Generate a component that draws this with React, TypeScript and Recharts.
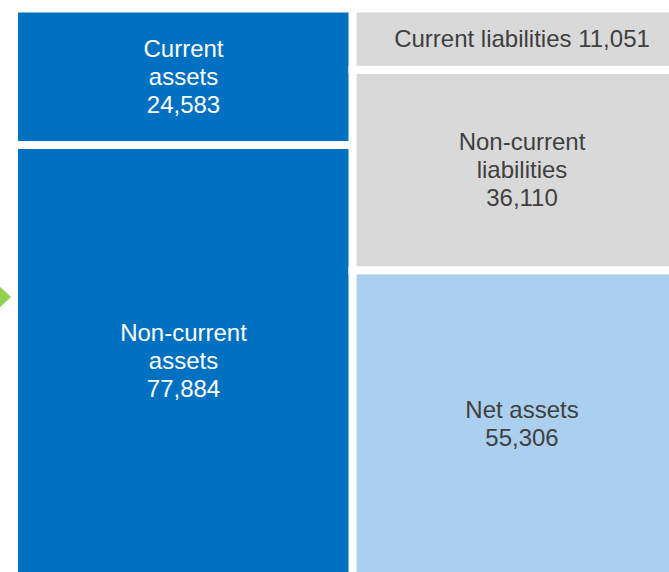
import React from "react";
import { BarChart, Bar, XAxis, YAxis, Cell, LabelList } from "recharts";

// balance sheet: left column = assets, right column = funding
const categories = ["Assets", "Liabilities and equity"];
const bottomValues = [77884, 55306]; // non-current assets / net assets
const middleValues = [24583, 36110]; // current assets / non-current liabilities
const topValues = [0, 11051]; // (none) / current liabilities

// "{v}" is replaced by the formatted value
const bottomLabels = [["Non-current", "assets", "{v}"], ["Net assets", "{v}"]];
const middleLabels = [["Current", "assets", "{v}"], ["Non-current", "liabilities", "{v}"]];
const topLabels = [[], ["Current liabilities {v}"]];

const BLUE = "#0070C0";
const LIGHT_BLUE = "#ABCFEE";
const GREY = "#D9D9D9";
const DARK_TEXT = "#404040";

const bottomFills = [BLUE, LIGHT_BLUE];
const middleFills = [BLUE, GREY];
const topFills = [BLUE, GREY];

const data = categories.map((name, i) => ({
  name,
  bottom: bottomValues[i],
  middle: middleValues[i],
  top: topValues[i],
}));

const fmt = (v: number) => v.toLocaleString("en-US");

// find the segment by its value, so skipped zero-height rects don't shift the index
const makeLabel = (values: number[], labels: string[][], fills: string[]) => (props: any) => {
  const { value } = props;
  const idx = values.indexOf(Number(value));
  if (idx < 0 || !value) return null;
  const lines = labels[idx] || [];
  if (!lines.length) return null;
  const vb = props.viewBox || props;
  const cx = vb.x + vb.width / 2;
  const cy = vb.y + vb.height / 2;
  const color = fills[idx] === BLUE ? "#ffffff" : DARK_TEXT;
  const lh = 28;
  return (
    <g>
      {lines.map((l, i) => (
        <text
          key={i}
          x={cx}
          y={cy + (i - (lines.length - 1) / 2) * lh + 8}
          textAnchor="middle"
          fill={color}
          style={{ fontFamily: "'Liberation Sans', Arial, sans-serif", fontSize: 24 }}
        >
          {l.replace("{v}", fmt(value))}
        </text>
      ))}
    </g>
  );
};

export default function App() {
  return (
    <div style={{ position: "fixed", left: 0, top: 0, width: 669, height: 572, overflow: "hidden", background: "#fff" }}>
      <BarChart
        width={700}
        height={580}
        data={data}
        margin={{ top: 8.5, right: 9, left: 14, bottom: 3 }}
        barCategoryGap={0}
        barGap={0}
      >
        <XAxis dataKey="name" hide />
        <YAxis hide domain={[0, "dataMax"]} />
        <Bar dataKey="bottom" stackId="a" stroke="#fff" strokeWidth={8} isAnimationActive={false}>
          {data.map((_, i) => <Cell key={i} fill={bottomFills[i]} />)}
          <LabelList dataKey="bottom" content={makeLabel(bottomValues, bottomLabels, bottomFills)} />
        </Bar>
        <Bar dataKey="middle" stackId="a" stroke="#fff" strokeWidth={8} isAnimationActive={false}>
          {data.map((_, i) => <Cell key={i} fill={middleFills[i]} />)}
          <LabelList dataKey="middle" content={makeLabel(middleValues, middleLabels, middleFills)} />
        </Bar>
        <Bar dataKey="top" stackId="a" stroke="#fff" strokeWidth={8} isAnimationActive={false}>
          {data.map((_, i) => <Cell key={i} fill={topFills[i]} />)}
          <LabelList dataKey="top" content={makeLabel(topValues, topLabels, topFills)} />
        </Bar>
      </BarChart>
      {/* green pointer on the left edge */}
      <svg width={20} height={40} style={{ position: "absolute", left: 0, top: 277 }}>
        <polygon points="-4,6 11,20 -4,34" fill="#92D050" />
      </svg>
    </div>
  );
}
